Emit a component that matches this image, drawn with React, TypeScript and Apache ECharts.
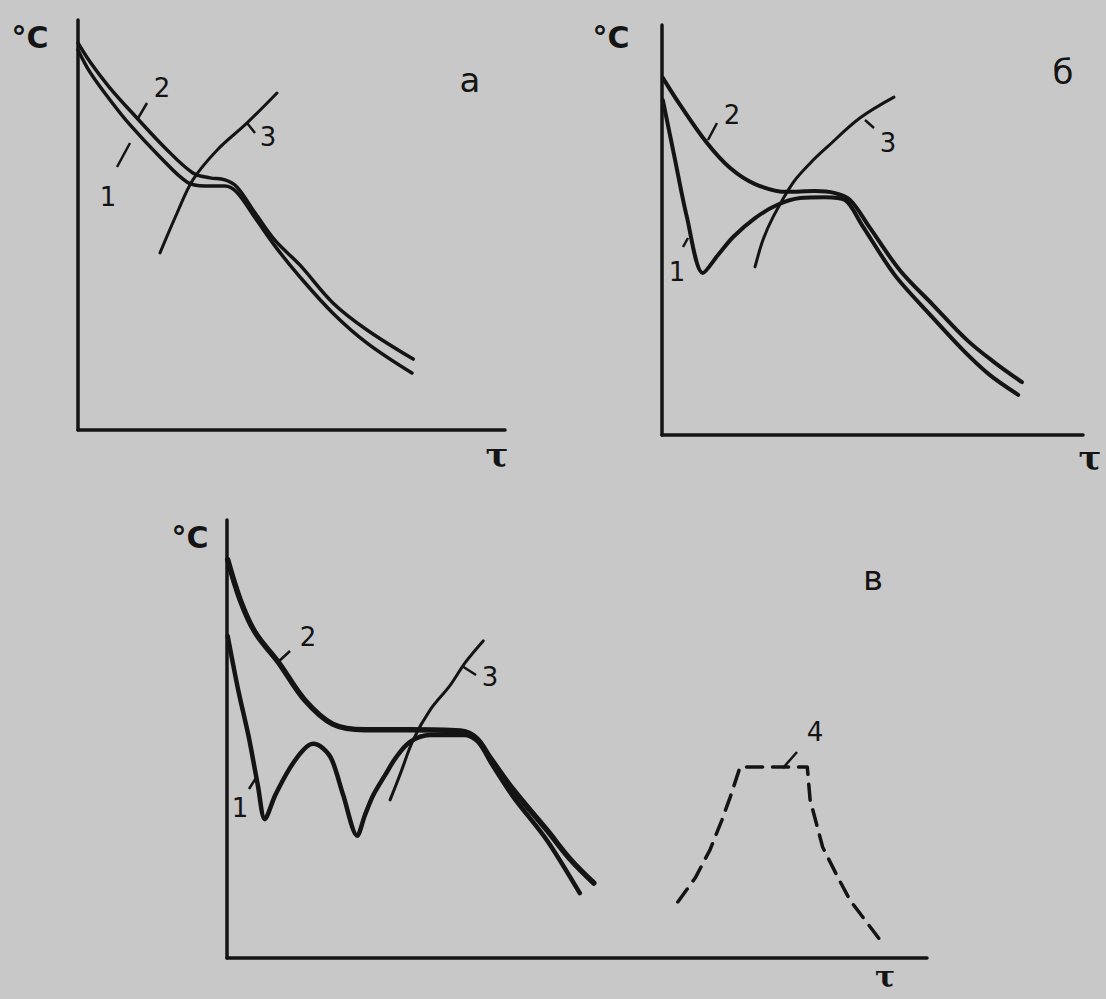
import React, { useEffect, useRef } from "react";
import * as echarts from "echarts";

// Panel а (time 0..100, temperature 0..100)
const a1 = [[0,92.7],[2.8,87.3],[7.5,80.5],[12.2,74.4],[19.2,66.6],[25.5,60.5],[29.7,59.5],[34.4,59.5],[37.2,58.0],[41.5,51.7],[46.1,44.9],[52.0,37.3],[59.7,28.5],[67.7,21.2],[78.2,13.9]];
const a2 = [[0,94.4],[2.8,89.8],[7.5,83.4],[13.8,76.1],[20.4,68.8],[26.9,62.7],[30.9,61.5],[34.4,61.0],[37.2,59.3],[41.5,52.9],[46.1,46.3],[52.0,40.2],[59.7,31.0],[67.7,24.4],[78.5,17.3]];
const a3 = [[19.2,43.2],[23.2,52.9],[26.9,61.0],[32.6,68.3],[39.6,74.9],[46.6,82.2]];

// Panel б
const b1 = [[0.2,81.7],[3.1,67.1],[5.9,53.2],[9.7,39.5],[13.3,43.9],[16.9,48.3],[22.1,52.9],[27.3,56.1],[32.8,57.8],[38.7,58.0],[43.5,57.3],[47.5,51.2],[55.3,39.0],[63.7,29.3],[71.5,20.7],[77.9,14.6],[84.6,9.8]];
const b2 = [[0.2,87.1],[4.3,80.5],[10.7,71.2],[16.2,65.1],[22.1,61.2],[29.7,59.3],[36.3,59.5],[41.1,59.0],[44.7,57.3],[49.4,50.5],[56.5,40.2],[64.4,31.7],[72.4,23.2],[79.1,17.6],[85.5,12.9]];
const b3 = [[22.1,41.0],[24.0,47.6],[26.4,53.2],[31.1,61.5],[35.2,66.3],[39.2,70.2],[47.0,77.3],[55.1,82.4]];

// Panel в
const c1 = [[0.1,73.5],[1.6,61.2],[3.1,50.5],[4.4,39.5],[5.4,31.7],[6.9,37.2],[9.0,43.4],[10.9,47.5],[12.3,48.9],[13.7,47.9],[15.0,45.2],[16.6,37.2],[18.6,27.9],[19.7,32.6],[20.9,37.2],[22.6,41.8],[24.1,45.7],[26.1,49.3],[29.0,50.9],[34.0,50.9],[35.9,49.3],[37.9,44.1],[40.9,36.8],[45.7,26.9],[50.4,14.8]];
const c2 = [[0.1,90.9],[1.9,81.7],[4.0,74.4],[7.4,67.4],[11.1,58.9],[15.1,53.4],[19.7,52.1],[26.1,52.1],[33.3,51.8],[35.6,50.2],[37.6,45.7],[40.9,38.4],[45.7,29.2],[49.0,22.6],[52.4,17.1]];
const c3 = [[23.3,36.1],[24.7,41.8],[26.6,49.8],[29.0,56.6],[31.9,62.3],[34.0,67.4],[36.6,72.4]];
const c4 = [[64.4,12.8],[66.9,18.3],[69.0,24.7],[70.7,31.5],[71.9,36.8],[73.3,43.6],[82.9,43.6],[83.3,36.1],[85.1,25.3],[87.3,18.3],[89.0,13.2],[93.3,4.1]];

const curveLabels = ["1", "2", "3", "4"];
const panelLetters = ["а", "б", "в"];
const axisY = "°C";
const axisX = "τ";

const INK = "#141414";
const BG = "#c8c8c8";

export default function App() {
  const ref = useRef<HTMLDivElement>(null);
  useEffect(() => {
    if (!ref.current) return;
    const chart = echarts.init(ref.current, null, { renderer: "svg" });
    const axisBase = (gi: number) => ({
      type: "value" as const,
      gridIndex: gi,
      min: 0,
      max: 100,
      axisLine: { show: true, onZero: false, lineStyle: { color: INK, width: 3.5 } },
      axisTick: { show: false },
      axisLabel: { show: false },
      splitLine: { show: false },
    });
    const line = (data: number[][], gi: number, width: number, smooth: number | boolean = 0.35, dashed = false) => ({
      type: "line" as const,
      xAxisIndex: gi,
      yAxisIndex: gi,
      data,
      smooth,
      showSymbol: false,
      symbol: "none",
      clip: false,
      silent: true,
      lineStyle: { color: INK, width, type: dashed ? [16, 10] : "solid", cap: "round", join: "round" },
    });
    const txt = (text: string, x: number, y: number, size: number, family = "DejaVu Sans", weight = "normal") => ({
      type: "text" as const,
      x,
      y,
      style: { text, fill: INK, font: `${weight} ${size}px "${family}"`, align: "center", verticalAlign: "middle" },
    });
    const ld = (x1: number, y1: number, x2: number, y2: number) => ({
      type: "line" as const,
      shape: { x1, y1, x2, y2 },
      style: { stroke: INK, lineWidth: 2.5 },
    });
    chart.setOption({
      animation: false,
      backgroundColor: BG,
      grid: [
        { left: 78, top: 20, width: 427, height: 410 },
        { left: 662, top: 25, width: 421, height: 410 },
        { left: 227, top: 520, width: 700, height: 438 },
      ],
      xAxis: [axisBase(0), axisBase(1), axisBase(2)],
      yAxis: [axisBase(0), axisBase(1), axisBase(2)],
      series: [
        line(a1, 0, 3.5),
        line(a2, 0, 3.5),
        line(a3, 0, 3),
        line(b1, 1, 4, 0.3),
        line(b2, 1, 4),
        line(b3, 1, 3),
        line(c1, 2, 4.5, 0.3),
        line(c2, 2, 5.5),
        line(c3, 2, 3),
        line(c4, 2, 3.5, false, true),
      ],
      graphic: [
        txt(axisY, 30, 37, 30, "DejaVu Sans", "bold"),
        txt(panelLetters[0], 470, 80, 34),
        txt(curveLabels[1], 162, 88, 26),
        txt(curveLabels[0], 108, 197, 26),
        txt(curveLabels[2], 268, 137, 26),
        txt(axisX, 497, 455, 34, "DejaVu Serif", "bold"),
        ld(147, 103, 137, 120),
        ld(117, 167, 130, 143),
        ld(247, 123, 255, 133),

        txt(axisY, 611, 37, 30, "DejaVu Sans", "bold"),
        txt(panelLetters[1], 1063, 72, 34),
        txt(curveLabels[1], 732, 115, 26),
        txt(curveLabels[0], 677, 272, 26),
        txt(curveLabels[2], 888, 143, 26),
        txt(axisX, 1090, 458, 34, "DejaVu Serif", "bold"),
        ld(717, 123, 708, 140),
        ld(683, 247, 688, 238),
        ld(865, 120, 874, 128),

        txt(axisY, 190, 537, 30, "DejaVu Sans", "bold"),
        txt(panelLetters[2], 873, 578, 34),
        txt(curveLabels[1], 308, 637, 26),
        txt(curveLabels[0], 240, 808, 26),
        txt(curveLabels[2], 490, 677, 26),
        txt(curveLabels[3], 815, 732, 26),
        txt(axisX, 885, 976, 30, "DejaVu Serif", "bold"),
        ld(290, 651, 277, 663),
        ld(249, 789, 256, 778),
        ld(462, 666, 476, 675),
        ld(797, 752, 783, 768),
      ],
    });
    return () => chart.dispose();
  }, []);
  return <div ref={ref} style={{ position: "fixed", left: 0, top: 0, width: 1106, height: 999 }} />;
}
